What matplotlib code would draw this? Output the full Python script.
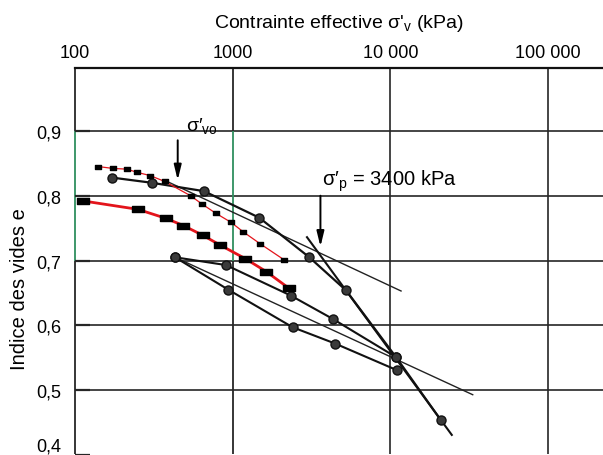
import matplotlib
matplotlib.use("Agg")
import matplotlib.pyplot as plt
import numpy as np
from matplotlib.path import Path

plt.rcParams['font.family'] = ['Liberation Sans', 'DejaVu Sans']
plt.rcParams['mathtext.fontset'] = 'custom'
plt.rcParams['mathtext.rm'] = 'Liberation Sans'
plt.rcParams['mathtext.it'] = 'Liberation Sans'
plt.rcParams['mathtext.bf'] = 'Liberation Sans:bold'

# ---- data (stress in kPa, void ratio e) ----
# red thin curve with small dash markers
s_red_thin = [140, 175, 213, 248, 300, 370, 540, 640, 780, 975, 1170, 1490, 2120]
e_red_thin = [0.845, 0.842, 0.841, 0.836, 0.831, 0.822, 0.800, 0.787, 0.773, 0.759, 0.744, 0.726, 0.701]
# red thick curve with rectangle markers
s_red_thick = [112, 250, 378, 486, 645, 830, 1200, 1630, 2280]
e_red_thick = [0.792, 0.779, 0.765, 0.754, 0.739, 0.724, 0.703, 0.683, 0.657]
# loading curve (circles)
s_load = [171, 306, 658, 1475, 3060, 5230, 10850, 20850]
e_load = [0.828, 0.820, 0.807, 0.766, 0.705, 0.654, 0.551, 0.454]
# reloading curve (circles)
s_reload = [431, 907, 2333, 4306, 10850]
e_reload = [0.705, 0.693, 0.646, 0.610, 0.551]
# unloading curve (circles)
s_unload = [431, 938, 2402, 4453, 10960]
e_unload = [0.705, 0.655, 0.597, 0.572, 0.531]
# straight construction lines
s_tangent = [372, 11680]
e_tangent = [0.8235, 0.653]
s_virgin = [2958, 24500]
e_virgin = [0.736, 0.431]
s_chord = [431, 33260]
e_chord = [0.705, 0.493]

x_ticks = [100, 1000, 10000, 100000]
x_ticklabels = ['100', '1000', '10 000', '100 000']
y_ticks = [0.4, 0.5, 0.6, 0.7, 0.8, 0.9]
y_ticklabels = ['0,4', '0,5', '0,6', '0,7', '0,8', '0,9']

sigma_vo = 448
sigma_p = 3600

GREEN = '#2f8f5f'
GRID = '#262626'
RED = '#e3141b'

fig = plt.figure(figsize=(6.03, 4.56), dpi=100)
ax = fig.add_axes([75/603, 0.0, 1 - 75/603, (456 - 69)/456])
ax.set_xscale('log')
ax.set_xlim(100, 10**5.348)
ax.set_ylim(0.402, 0.997)

for s in ['left', 'right', 'bottom']:
    ax.spines[s].set_visible(False)
ax.spines['top'].set_linewidth(1.6)
ax.spines['top'].set_color('#111111')

# grid lines
for y in [0.5, 0.6, 0.7, 0.8, 0.9]:
    ax.axhline(y, color=GRID, lw=1.2, zorder=1)
ylo, yhi = ax.get_ylim()
for x in [100, 1000]:
    ax.vlines(x, ylo, 0.7, color=GRID, lw=1.3, zorder=1, clip_on=False)
    ax.vlines(x, 0.7, 0.9, color=GREEN, lw=1.3, zorder=1, clip_on=False)
    ax.vlines(x, 0.9, yhi, color=GRID, lw=1.3, zorder=1, clip_on=False)
for x in [10000, 100000]:
    ax.vlines(x, ylo, yhi, color=GRID, lw=1.2, zorder=1)

# ticks
ax.xaxis.tick_top()
ax.set_xticks(x_ticks)
ax.set_xticklabels(x_ticklabels, fontsize=13)
ax.xaxis.set_minor_locator(matplotlib.ticker.NullLocator())
ax.tick_params(axis='x', which='both', length=0, pad=5)
ax.set_yticks(y_ticks)
ax.set_yticklabels(y_ticklabels, fontsize=13)
ax.tick_params(axis='y', direction='in', length=11, width=1.6, color=GRID, pad=10)
# keep the bottom label readable at the lower edge
ax.get_yticklabels()[0].set_va('bottom')

rect = Path([(-1, -0.45), (1, -0.45), (1, 0.45), (-1, 0.45), (-1, -0.45)],
            [Path.MOVETO, Path.LINETO, Path.LINETO, Path.LINETO, Path.CLOSEPOLY])

# black curves
ax.plot(s_load, e_load, color='#111111', lw=1.6, marker='o', ms=6.5,
        mfc='#3a3a3a', mec='#111111', zorder=3)
ax.plot(s_reload, e_reload, color='#111111', lw=1.5, marker='o', ms=6.5,
        mfc='#3a3a3a', mec='#111111', zorder=3)
ax.plot(s_unload, e_unload, color='#111111', lw=1.5, marker='o', ms=6.5,
        mfc='#3a3a3a', mec='#111111', zorder=3)
ax.plot(s_tangent, e_tangent, color='#222222', lw=1.0, zorder=2)
ax.plot(s_virgin, e_virgin, color='#111111', lw=1.5, zorder=2)
ax.plot(s_chord, e_chord, color='#222222', lw=1.0, zorder=2)

# red curves
ax.plot(s_red_thin, e_red_thin, color=RED, lw=0.9, marker=rect, ms=5,
        mfc='black', mec='black', zorder=4)
ax.plot(s_red_thick, e_red_thick, color=RED, lw=2.0, marker=rect, ms=8.5,
        mfc='black', mec='black', zorder=4)

# arrows and annotations
arrow = dict(arrowstyle='-|>,head_length=0.9,head_width=0.22', lw=1.4,
             color='black', shrinkA=0, shrinkB=0)
ax.annotate('', xy=(sigma_vo, 0.824), xytext=(sigma_vo, 0.8855), arrowprops=arrow)
ax.annotate('', xy=(sigma_p, 0.7215), xytext=(sigma_p, 0.800), arrowprops=arrow)
ax.text(636, 0.9086, "σ′$_{\\mathrm{vo}}$", fontsize=14, ha='center', va='center')
ax.text(3667, 0.824, "σ′$_{\\mathrm{p}}$ = 3400 kPa", fontsize=14.5,
        ha='left', va='center')

fig.text(339/603, 1 - 24/456, "Contrainte effective σ'$_{\\mathrm{v}}$ (kPa)",
         fontsize=14, ha='center', va='center')
fig.text(20/603, 1 - 289/456, 'Indice des vides e', fontsize=14.5,
         rotation=90, ha='center', va='center')

fig.savefig('out.png', dpi=100)
